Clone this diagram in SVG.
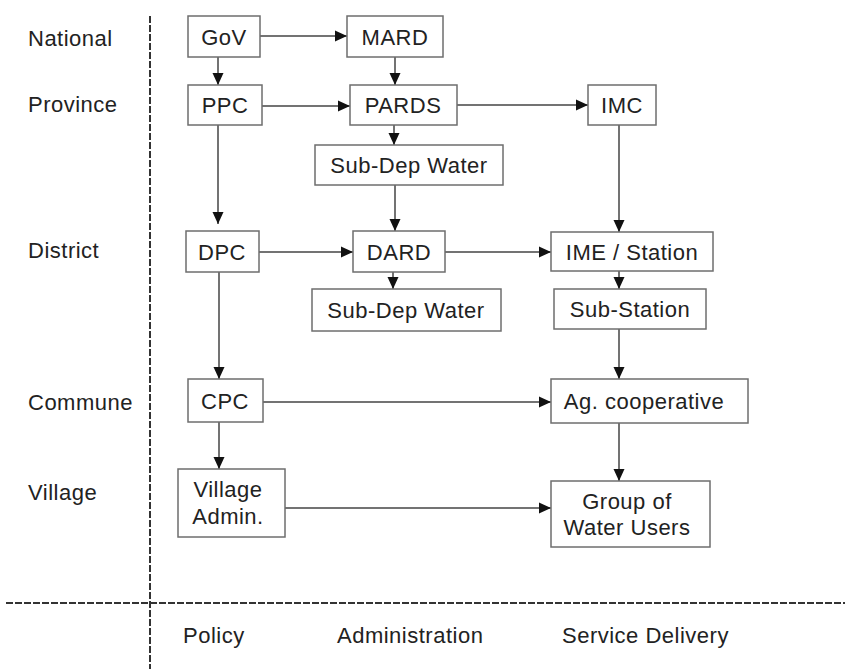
<svg xmlns="http://www.w3.org/2000/svg" width="845" height="669" viewBox="0 0 845 669">
<style>
.bg{fill:#ffffff}
.box{fill:#ffffff;stroke:#6e6e6e;stroke-width:1.5}
.t{font-family:"Liberation Sans",Arial,sans-serif;font-size:22px;letter-spacing:0.5px;fill:#222222}
.c{text-anchor:middle}
.con{stroke:#444444;stroke-width:1.5;fill:none}
.axis{stroke:#333333;stroke-width:2;stroke-dasharray:7 2}
</style>
<defs>
<marker id="ah" viewBox="0 0 12 12" refX="12" refY="6" markerWidth="12" markerHeight="12" markerUnits="userSpaceOnUse" orient="auto">
<path d="M0,0.5 L12,6 L0,11.5 z" fill="#111111"/>
</marker>
</defs>
<rect class="bg" x="0" y="0" width="845" height="669"/>

<g id="axes">
<line class="axis" x1="150" y1="16" x2="150" y2="669"/>
<line class="axis" x1="6" y1="603" x2="845" y2="603"/>
</g>

<g id="row-labels">
<text class="t" x="28" y="46">National</text>
<text class="t" x="28" y="112">Province</text>
<text class="t" x="28" y="258">District</text>
<text class="t" x="28" y="410">Commune</text>
<text class="t" x="28" y="500">Village</text>
</g>

<g id="col-labels">
<text class="t" x="183" y="643">Policy</text>
<text class="t" x="337" y="643">Administration</text>
<text class="t" x="562" y="643">Service Delivery</text>
</g>

<g id="connectors">
<line class="con" x1="260" y1="36" x2="347" y2="36" marker-end="url(#ah)"/>
<line class="con" x1="218" y1="57" x2="218" y2="85" marker-end="url(#ah)"/>
<line class="con" x1="395" y1="57" x2="395" y2="85" marker-end="url(#ah)"/>
<line class="con" x1="262" y1="106" x2="350" y2="106" marker-end="url(#ah)"/>
<line class="con" x1="457" y1="105" x2="588" y2="105" marker-end="url(#ah)"/>
<line class="con" x1="394" y1="125" x2="394" y2="145" marker-end="url(#ah)"/>
<line class="con" x1="218" y1="125" x2="218" y2="224" marker-end="url(#ah)"/>
<line class="con" x1="395" y1="185" x2="395" y2="231" marker-end="url(#ah)"/>
<line class="con" x1="619" y1="125" x2="619" y2="232" marker-end="url(#ah)"/>
<line class="con" x1="259" y1="252" x2="353" y2="252" marker-end="url(#ah)"/>
<line class="con" x1="445" y1="252" x2="551" y2="252" marker-end="url(#ah)"/>
<line class="con" x1="393" y1="272" x2="393" y2="289" marker-end="url(#ah)"/>
<line class="con" x1="619" y1="271" x2="619" y2="289" marker-end="url(#ah)"/>
<line class="con" x1="219" y1="272" x2="219" y2="379" marker-end="url(#ah)"/>
<line class="con" x1="619" y1="329" x2="619" y2="379" marker-end="url(#ah)"/>
<line class="con" x1="263" y1="402" x2="551" y2="402" marker-end="url(#ah)"/>
<line class="con" x1="219" y1="422" x2="219" y2="469" marker-end="url(#ah)"/>
<line class="con" x1="619" y1="423" x2="619" y2="481" marker-end="url(#ah)"/>
<line class="con" x1="285" y1="508" x2="551" y2="508" marker-end="url(#ah)"/>
</g>

<g id="gov"><rect class="box" x="188" y="16" width="72" height="41"/><text class="t c" x="224" y="45">GoV</text></g>
<g id="mard"><rect class="box" x="347" y="16" width="96" height="41"/><text class="t c" x="395" y="45">MARD</text></g>
<g id="ppc"><rect class="box" x="188" y="85" width="74" height="40"/><text class="t c" x="225" y="113">PPC</text></g>
<g id="pards"><rect class="box" x="350" y="85" width="107" height="40"/><text class="t c" x="403" y="113">PARDS</text></g>
<g id="imc"><rect class="box" x="588" y="85" width="68" height="40"/><text class="t c" x="622" y="113">IMC</text></g>
<g id="subdep1"><rect class="box" x="315" y="145" width="188" height="40"/><text class="t c" x="409" y="173">Sub-Dep Water</text></g>
<g id="dpc"><rect class="box" x="186" y="231" width="73" height="41"/><text class="t c" x="222" y="260">DPC</text></g>
<g id="dard"><rect class="box" x="353" y="231" width="92" height="41"/><text class="t c" x="399" y="260">DARD</text></g>
<g id="ime"><rect class="box" x="551" y="232" width="162" height="39"/><text class="t c" x="632" y="260">IME / Station</text></g>
<g id="subdep2"><rect class="box" x="312" y="289" width="189" height="42"/><text class="t c" x="406" y="318">Sub-Dep Water</text></g>
<g id="substation"><rect class="box" x="554" y="289" width="152" height="40"/><text class="t c" x="630" y="317">Sub-Station</text></g>
<g id="cpc"><rect class="box" x="188" y="379" width="75" height="43"/><text class="t c" x="225" y="409">CPC</text></g>
<g id="agcoop"><rect class="box" x="551" y="379" width="197" height="44"/><text class="t c" x="644" y="409">Ag. cooperative</text></g>
<g id="village"><rect class="box" x="178" y="469" width="107" height="68"/><text class="t c" x="228" y="497">Village</text><text class="t c" x="228" y="524">Admin.</text></g>
<g id="group"><rect class="box" x="551" y="481" width="159" height="66"/><text class="t c" x="627" y="509">Group of</text><text class="t c" x="627" y="535">Water Users</text></g>
</svg>
